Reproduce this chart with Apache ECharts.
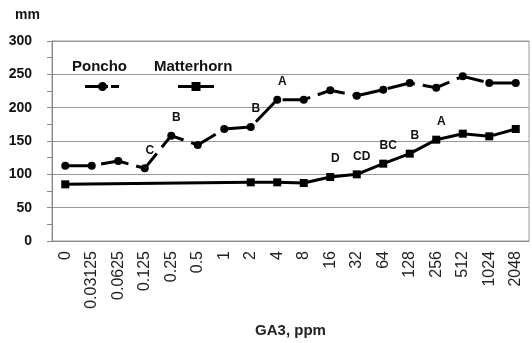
<!DOCTYPE html>
<html>
<head>
<meta charset="utf-8">
<script src="https://cdn.jsdelivr.net/npm/echarts@6/dist/echarts.min.js"></script>
<style>
  html, body { margin: 0; padding: 0; background: #fff; }
  #main { width: 532px; height: 343px; }
</style>
</head>
<body>
<div id="main"></div>
<script>
var myChart = echarts.init(document.getElementById('main'));

// GA3 concentrations (ppm)
const doses = ['0', '0.03125', '0.0625', '0.125', '0.25', '0.5', '1', '2', '4', '8',
  '16', '32', '64', '128', '256', '512', '1024', '2048'];

// plant height, mm
const poncho = [113, 113, 120, 109, 158, 144, 168, 171, 212, 212, 226, 218, 227, 237, 230, 247, 237, 237];
const matterhorn = [85, null, null, null, null, null, null, 88, 88, 87, 96, 100, 116, 131, 152, 161, 157, 168];

// significance letters
const ponchoLetters = ['', '', '', 'C', 'B', '', '', 'B', 'A', '', '', '', '', '', '', '', '', ''];
const matterLetters = ['', '', '', '', '', '', '', '', '', '', 'D', 'CD', 'BC', 'B', 'A', '', '', ''];

const font = 'Liberation Sans, Arial, sans-serif';

// legend keys drawn like the old Excel ones: thick line + marker
const ponchoIcon = 'path://M0,3H14V6H0Z M13,4.5A4.5,4.5 0 1,1 22,4.5A4.5,4.5 0 1,1 13,4.5Z M21,3H23V6H21Z M26,3H34V6H26Z';
const matterIcon = 'path://M0,3H36V6H0Z M13.5,0H22.5V9H13.5Z';

function labelled(values, letters) {
  return values.map(function (v, i) {
    return {
      value: v,
      label: { show: letters[i] !== '' }
    };
  });
}

const letterLabel = function (letters) {
  return {
    position: 'top',
    offset: [5, -3],
    fontFamily: font,
    fontWeight: 'bold',
    fontSize: 12,
    color: '#111',
    formatter: function (p) { return letters[p.dataIndex]; }
  };
};

option = {
  animation: false,
  textStyle: { fontFamily: font },
  grid: {
    left: 52, right: 3, top: 41, bottom: 102,
    outerBoundsMode: 'none', containLabel: false,
    show: true, borderColor: '#999', borderWidth: 1
  },
  legend: [{
    left: 85, top: 82, padding: 0, itemWidth: 34, itemHeight: 9,
    data: [{ name: 'Poncho', icon: ponchoIcon }],
    formatter: function () { return ''; }
  }, {
    left: 178, top: 82, padding: 0, itemWidth: 36, itemHeight: 9,
    data: [{ name: 'Matterhorn', icon: matterIcon }],
    formatter: function () { return ''; }
  }],
  graphic: [
    { type: 'text', left: 72, top: 59, style: { text: 'Poncho', font: 'bold 15px ' + font, fill: '#111' } },
    { type: 'text', left: 154, top: 59, style: { text: 'Matterhorn', font: 'bold 15px ' + font, fill: '#111' } }
  ],
  xAxis: {
    type: 'category',
    data: doses,
    name: 'GA3, ppm',
    nameLocation: 'middle',
    nameGap: 82,
    nameTextStyle: { fontSize: 15, fontWeight: 'bold', color: '#222' },
    axisLine: { lineStyle: { color: '#888' } },
    axisTick: { alignWithLabel: true, length: 5, lineStyle: { color: '#888' } },
    axisLabel: { rotate: 90, margin: 10, fontSize: 16, color: '#222' }
  },
  yAxis: {
    type: 'value',
    min: 0, max: 300, interval: 50,
    name: 'mm',
    nameLocation: 'end',
    nameGap: 19,
    nameTextStyle: { align: 'right', padding: [0, 12, 0, 0], fontSize: 14, fontWeight: 'bold', color: '#111' },
    axisLine: { show: true, lineStyle: { color: '#888' } },
    axisTick: { show: true, length: 5, lineStyle: { color: '#888' } },
    minorTick: { show: true, splitNumber: 2, length: 5, lineStyle: { color: '#888' } },
    splitLine: { lineStyle: { color: '#999' } },
    axisLabel: { margin: 20, fontSize: 14, fontWeight: 'bold', color: '#111' }
  },
  series: [{
    name: 'Poncho',
    type: 'line',
    data: labelled(poncho, ponchoLetters),
    symbol: 'circle',
    symbolSize: 8,
    itemStyle: { color: '#000' },
    lineStyle: { color: '#000', width: 3, type: [28, 8] },
    label: letterLabel(ponchoLetters)
  }, {
    name: 'Matterhorn',
    type: 'line',
    data: labelled(matterhorn, matterLetters),
    connectNulls: true,
    symbol: 'rect',
    symbolSize: 8,
    itemStyle: { color: '#000' },
    lineStyle: { color: '#000', width: 3 },
    label: letterLabel(matterLetters)
  }]
};

myChart.setOption(option);
</script>
</body>
</html>
